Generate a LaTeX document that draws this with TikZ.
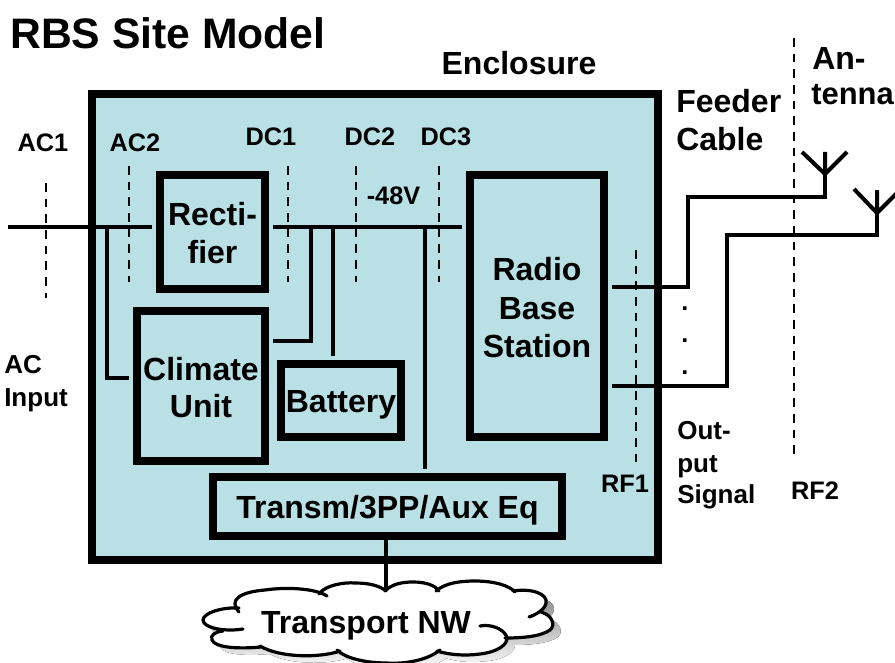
\documentclass[tikz,border=0pt]{standalone}
\usepackage{fontspec}
\setmainfont{Liberation Sans}
\definecolor{encl}{HTML}{B9E0E4}
\definecolor{shade}{HTML}{808080}
\newcommand{\fs}[1]{\fontsize{#1}{#1}\selectfont\bfseries}
\newcommand{\cloudlobes}[1]{(239,612) .. controls (228,600) and (240,592) .. (265,590) .. controls (285,587) and (315,588) .. (327,596)
 #1 (319,594) .. controls (325,585) and (345,582) .. (355,583) .. controls (370,583) and (380,586) .. (386,591)
 #1 (385,591) .. controls (392,584) and (402,582) .. (413,582) .. controls (425,582) and (435,585) .. (439,591)
 #1 (436,591) .. controls (445,583) and (460,581) .. (475,581) .. controls (495,581) and (510,586) .. (515,592)
 #1 (513,591) .. controls (532,588) and (548,594) .. (546,603) .. controls (545,610) and (535,615) .. (529,617)
 #1 (541,612) .. controls (552,615) and (556,625) .. (550,630) .. controls (540,637) and (520,638) .. (505,638)
 #1 (480,626) .. controls (490,624) and (503,628) .. (507,637) .. controls (508,645) and (497,652) .. (480,654) .. controls (465,656) and (450,655) .. (437,651)
 #1 (440,650) .. controls (425,662) and (400,664) .. (387,663) .. controls (365,663) and (345,658) .. (337,650)
 #1 (340,651) .. controls (320,658) and (280,658) .. (260,646)
 #1 (261,647) .. controls (240,649) and (215,648) .. (212,640) .. controls (210,635) and (215,632) .. (223,631)
 #1 (243,629) .. controls (225,632) and (203,628) .. (203,620) .. controls (203,613) and (222,607) .. (239,608)}
\tikzset{
 x=0.75pt,y=-0.75pt,
 lab/.style={font=\fs{19},align=center,inner sep=0pt},
 labw/.style={font=\fs{19.5},inner sep=0pt,anchor=base west},
 big/.style={font=\fs{24},inner sep=0pt},
 boxthick/.style={draw=black,line width=6pt,fill=encl,inner sep=0pt,outer sep=0pt},
 boxtext/.style={font=\fs{24},align=center,inner sep=0pt},
 wire/.style={draw=black,line width=3pt},
 cutline/.style={draw=black,line width=1.5pt,dash pattern=on 6.5pt off 5.25pt},
 cloudline/.style={draw=black,line width=2.4pt,line cap=round}
}
\begin{document}
\begin{tikzpicture}
\clip (0,0) rectangle (895,663);
\useasboundingbox (0,0) rectangle (895,663);
\node[boxthick,minimum width=424.5pt,minimum height=348.75pt] (encl) at (375,327) {};
\node[boxthick,minimum width=78.75pt,minimum height=85.5pt,
  label={[boxtext,yshift=-0.75pt]center:Recti-\\[4.5pt]fier}] (rect) at (212.5,232) {};
\node[boxthick,minimum width=96pt,minimum height=112.5pt,
  label={[boxtext,yshift=-1pt]center:Climate\\[4pt]Unit}] (clim) at (201,386) {};
\node[boxthick,minimum width=90pt,minimum height=55pt,
  label={[boxtext,yshift=-3pt]center:Battery}] (batt) at (341,400.5) {};
\node[boxthick,minimum width=100.5pt,minimum height=196.5pt,
  label={[boxtext,yshift=-1.2pt]center:Radio\\[5pt]Base\\[5pt]Station}] (rbs) at (537,306) {};
\node[boxthick,minimum width=262pt,minimum height=44pt,
  label={[boxtext,yshift=-3pt]center:Transm/3PP/Aux Eq}] (trans) at (387.5,506.5) {};
% cloud
\fill[shade,shift={(8,7)}] \cloudlobes{--} -- cycle;
\fill[white] \cloudlobes{--} -- cycle;
\draw[cloudline] \cloudlobes{};
\node[inner sep=0pt,font=\fs{24},anchor=base] (cloud) at (366,633) {Transport NW};
\coordinate (cloudtop) at (386,590);
% coordinates
\coordinate (acin) at (8,227);
\coordinate (acend) at (152,227);
\coordinate (dcs) at (273,227);
\coordinate (dce) at (462,227);
\coordinate (a1) at (825,174);
\coordinate (a2) at (877,213);
% wires
\draw[wire] (acin) -- (acend);
\draw[wire] (107,227) |- (129,378);
\draw[wire] (dcs) -- (dce);
\draw[wire] (311,227) |- (273,341);
\draw[wire] (333,227) -- (333,356);
\draw[wire] (425,227) -- (425,469);
\draw[wire] (386,540) -- (cloudtop);
\draw[wire] (612,287) -| (688,197) -| (a1);
\draw[wire] (612,385.5) -| (727,235) -| (a2);
\draw[wire] (a1) -- (825,152) (802,152) -- (a1) -- (847,152);
\draw[wire] (a2) -- (877,190) (854,189) -- (a2) -- (900,190);
% cuts
\draw[cutline] (46,183) -- (46,298);
\draw[cutline] (129,166) -- (129,282);
\draw[cutline] (288,166) -- (288,282);
\draw[cutline] (356,166) -- (356,282);
\draw[cutline] (439,166) -- (439,282);
\draw[cutline] (635.5,250) -- (635.5,462);
\draw[cutline] (794,38) -- (794,460);
% texts
\node[inner sep=0pt,anchor=west,font=\fs{32}] (title) at (10,33) {RBS Site Model};
\node[big] (encll) at (519,63) {Enclosure};
\node[big,anchor=west] (feed) at (676,101) {Feeder};
\node[big,anchor=west] (cab) at (676,139) {Cable};
\node[big,anchor=west] (ant1) at (812,58) {An-};
\node[inner sep=0pt,font=\fs{23.2},anchor=west] (ant2) at (811,95) {tenna};
\node[lab] (ac1) at (43,143) {AC1};
\node[lab] (ac2) at (135,143) {AC2};
\node[lab] (dc1) at (271,137) {DC1};
\node[lab] (dc2) at (370,137) {DC2};
\node[lab] (dc3) at (446,137) {DC3};
\node[lab] (v48) at (393.5,196) {-48V};
\node[labw] (acl) at (4,373) {AC};
\node[labw] (inp) at (4,406) {Input};
\node[labw] (o1) at (677,439) {Out-};
\node[labw] (o2) at (677,472) {put};
\node[labw] (o3) at (677,503) {Signal};
\node[lab] (rf1) at (625,484) {RF1};
\node[lab] (rf2) at (815,491) {RF2};
\node[lab,anchor=base] (d1) at (685,310) {.};
\node[lab,anchor=base] (d2) at (685,342) {.};
\node[lab,anchor=base] (d3) at (685,374) {.};
\end{tikzpicture}
\end{document}
